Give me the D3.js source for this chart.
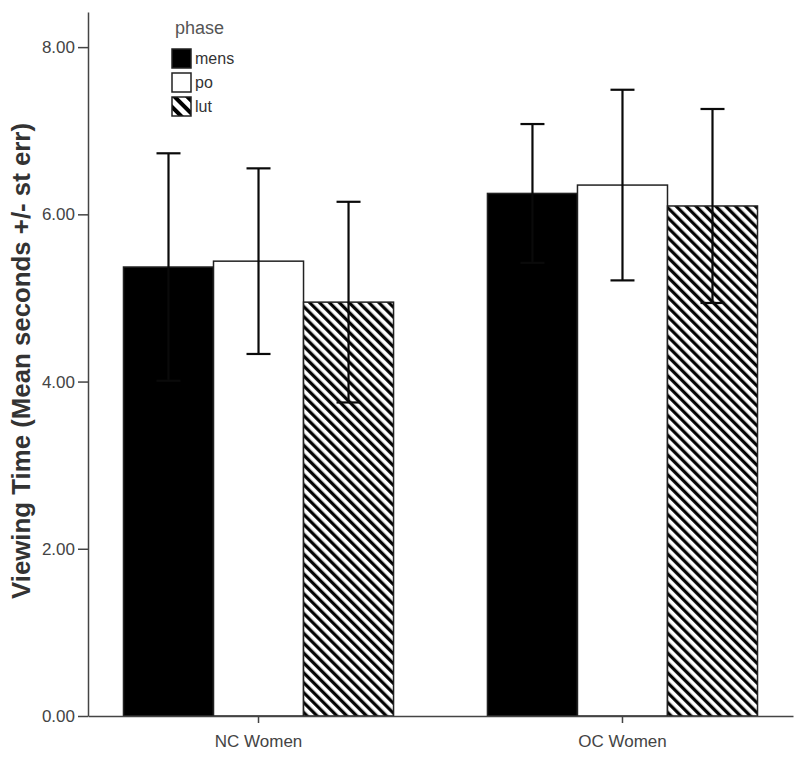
<!DOCTYPE html>
<html>
<head>
<meta charset="utf-8">
<script src="https://cdn.jsdelivr.net/npm/d3@7"></script>
<style>
  html, body { margin: 0; padding: 0; background: #fff; }
  svg { display: block; font-family: "Liberation Sans", Arial, sans-serif; }
</style>
</head>
<body>
<svg id="chart" width="800" height="758"></svg>
<script>
// ---- data ----
const groups = ["NC Women", "OC Women"];
const phases = ["mens", "po", "lut"];
const meanValues = {
  "NC Women": [5.37, 5.44, 4.95],
  "OC Women": [6.25, 6.35, 6.10]
};
const errValues = {
  "NC Women": [1.36, 1.11, 1.20],
  "OC Women": [0.83, 1.14, 1.16]
};
const yTicks = [0, 2, 4, 6, 8];
const yTitle = "Viewing Time (Mean seconds +/- st err)";
const legendTitle = "phase";

// ---- layout ----
const svg = d3.select("#chart");
const axisColor = "#444";
const textColor = "#444";

const y = d3.scaleLinear().domain([0, 8.42]).range([716, 12]);
const x0 = d3.scaleBand().domain(groups).range([88, 793])
  .paddingInner(0.258).paddingOuter(0.0975).align(0.5);
const x1 = d3.scaleBand().domain(phases).range([0, x0.bandwidth()]).padding(0);

// hatch patterns
const defs = svg.append("defs");
defs.append("pattern")
  .attr("id", "hatch").attr("patternUnits", "userSpaceOnUse")
  .attr("width", 7).attr("height", 7)
  .attr("patternTransform", "rotate(-45)")
  .call(p => {
    p.append("rect").attr("width", 7).attr("height", 7).attr("fill", "#fff");
    p.append("line").attr("x1", 1.7).attr("y1", -1).attr("x2", 1.7).attr("y2", 8)
      .attr("stroke", "#000").attr("stroke-width", 3.2);
  });
defs.append("pattern")
  .attr("id", "hatchLegend").attr("patternUnits", "userSpaceOnUse")
  .attr("width", 9).attr("height", 9)
  .attr("patternTransform", "rotate(-45)")
  .call(p => {
    p.append("rect").attr("width", 9).attr("height", 9).attr("fill", "#fff");
    p.append("line").attr("x1", 2).attr("y1", -1).attr("x2", 2).attr("y2", 10)
      .attr("stroke", "#000").attr("stroke-width", 4);
  });

const fills = { mens: "#000", po: "#fff", lut: "url(#hatch)" };
const legendFills = { mens: "#000", po: "#fff", lut: "url(#hatchLegend)" };

// bars
const g = svg.append("g");
const groupSel = g.selectAll("g.grp").data(groups).join("g")
  .attr("class", "grp")
  .attr("transform", d => `translate(${x0(d)},0)`);

groupSel.selectAll("rect").data(grp => phases.map((p, i) => ({ grp, p, v: meanValues[grp][i], e: errValues[grp][i] })))
  .join("rect")
  .attr("x", d => x1(d.p))
  .attr("y", d => y(d.v))
  .attr("width", x1.bandwidth())
  .attr("height", d => y(0) - y(d.v))
  .attr("fill", d => fills[d.p])
  .attr("stroke", "#222")
  .attr("stroke-width", 1.5);

// error bars
const capW = 24;
const errColor = "#0a0a0a";
groupSel.selectAll("g.err").data(grp => phases.map((p, i) => ({ grp, p, v: meanValues[grp][i], e: errValues[grp][i] })))
  .join("g").attr("class", "err")
  .each(function(d) {
    const cx = x1(d.p) + x1.bandwidth() / 2;
    const gg = d3.select(this);
    gg.append("line").attr("x1", cx).attr("x2", cx)
      .attr("y1", y(d.v + d.e)).attr("y2", y(d.v - d.e))
      .attr("stroke", errColor).attr("stroke-width", 2.2);
    [d.v + d.e, d.v - d.e].forEach(val => {
      gg.append("line").attr("x1", cx - capW / 2).attr("x2", cx + capW / 2)
        .attr("y1", y(val)).attr("y2", y(val))
        .attr("stroke", errColor).attr("stroke-width", 2.2);
    });
  });

// y axis
const yAxis = d3.axisLeft(y).tickValues(yTicks).tickFormat(d3.format(".2f"))
  .tickSize(10).tickSizeOuter(0).tickPadding(3);
const yg = svg.append("g").attr("transform", "translate(88,0)").call(yAxis);
yg.select(".domain").attr("stroke", axisColor).attr("stroke-width", 1.5);
yg.selectAll(".tick line").attr("stroke", axisColor).attr("stroke-width", 1.5);
yg.selectAll(".tick text").attr("fill", textColor).attr("font-size", 17)
  .attr("font-family", "'Liberation Sans', Arial, sans-serif");

// x axis
const xAxis = d3.axisBottom(x0).tickSize(7).tickSizeOuter(0).tickPadding(12);
const xg = svg.append("g").attr("transform", "translate(0,716)").call(xAxis);
xg.select(".domain").attr("stroke", axisColor).attr("stroke-width", 1.5);
xg.selectAll(".tick line").attr("stroke", axisColor).attr("stroke-width", 1.5);
xg.selectAll(".tick text").attr("fill", textColor).attr("font-size", 17)
  .attr("font-family", "'Liberation Sans', Arial, sans-serif");

// y title
svg.append("text")
  .attr("transform", "translate(30,361) rotate(-90)")
  .attr("text-anchor", "middle")
  .attr("font-size", 25).attr("font-weight", "bold")
  .attr("fill", "#333")
  .attr("textLength", 476).attr("lengthAdjust", "spacingAndGlyphs")
  .text(yTitle);

// legend
const lg = svg.append("g").attr("transform", "translate(172,0)");
lg.append("text").attr("x", 3).attr("y", 34).attr("font-size", 18)
  .attr("fill", "#555").text(legendTitle);
const items = lg.selectAll("g.item").data(phases).join("g").attr("class", "item")
  .attr("transform", (d, i) => `translate(0,${49 + i * 24})`);
items.append("rect").attr("width", 19).attr("height", 19)
  .attr("fill", d => legendFills[d]).attr("stroke", "#222").attr("stroke-width", 1.5);
items.append("text").attr("x", 23).attr("y", 15).attr("font-size", 16)
  .attr("fill", "#333").text(d => d);
</script>
</body>
</html>
